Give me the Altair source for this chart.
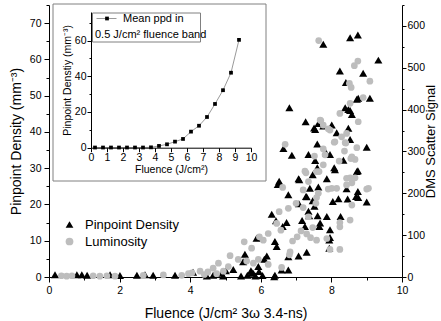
import altair as alt
import pandas as pd

# ---------------- data ----------------
# Pinpoint Density (black triangles, left axis, mm^-3)
tri_x = [0.17, 0.79, 0.93, 1.08, 1.73, 2.01, 2.49, 2.72, 2.95, 3.57, 4.08,
         4.47, 4.65, 4.89, 5.01, 4.93, 5.22, 5.44, 5.5, 5.55, 5.72, 5.79, 5.93, 6.1, 6.17,
         5.88, 6.38, 6.59, 6.78, 6.4, 5.62, 5.75, 5.85, 5.95, 6.05,
         6.4, 6.45, 6.31, 6.43, 6.62, 6.73, 6.78, 7.07, 7.3, 6.78, 7.28, 7.08, 7.47, 7.52,
         7.61, 7.35, 7.37, 7.17, 7.25, 7.68, 7.66, 7.87, 7.96, 7.96, 7.94, 7.94, 8.04, 8.46,
         8.7, 8.75, 9.0, 8.26, 6.52, 6.54, 7.07, 7.47, 7.87, 8.08, 8.72, 7.6, 8.1, 8.75,
         7.09, 7.39, 8.43, 6.48, 7.3, 7.63, 8.2, 8.76,
         6.64, 6.88, 7.35, 7.96, 7.54, 8.34, 9.0, 7.6, 8.15, 8.01, 7.54, 7.63, 7.27, 6.81,
         8.58, 8.48, 8.72, 8.53, 8.39, 8.76, 9.09, 8.9, 8.41, 8.24, 9.33, 8.53, 8.75, 7.77,
         7.51, 7.77, 8.48, 8.53, 7.85]
tri_y = [0.6, 0.6, 0.6, 0.5, 0.6, 0.4, 0.5, 0.6, 0.5, 0.5, 1.3,
         0.3, 0.5, 1.0, 1.7, 0.3, 2.1, 0.3, 4.2, 6.3, 1.7, 1.0, 2.9, 4.9, 5.8,
         10.7, 0.1, 1.9, 1.9, 0.5, 0.5, 1.2, 0.3, 1.5, 0.4,
         9.8, 8.4, 17.3, 15.5, 13.9, 15.0, 5.6, 5.8, 6.8, 22.7, 22.2, 20.2, 21.0, 19.5,
         16.9, 18.1, 16.9, 15.6, 13.9, 14.9, 13.9, 16.7, 13.0, 10.9, 10.2, 7.9, 20.8, 21.5,
         22.2, 23.6, 20.7, 16.7, 26.4, 25.7, 27.1, 28.2, 27.1, 30.1, 29.1, 30.1, 29.6, 29.3,
         26.8, 24.5, 24.3, 25.5, 22.1, 24.8, 21.6, 21.9,
         35.4, 33.6, 33.8, 33.8, 32.1, 32.2, 35.8, 36.7, 39.8, 41.9, 40.7, 42.3, 42.8, 46.7,
         44.8, 46.2, 49.0, 45.9, 46.7, 49.3, 49.3, 56.2, 53.6, 56.8, 59.8, 66.0, 66.7, 64.2,
         41.1, 41.6, 41.0, 37.9, 34.2]

# Luminosity (grey circles, right axis, DMS scatter signal)
lum_x = [0.35, 0.5, 0.65, 1.25, 1.44, 1.64, 1.87, 2.67, 3.24, 3.76, 3.95, 4.05, 4.28, 4.4,
         4.65, 4.8, 4.75, 4.5, 4.94, 5.08, 5.13, 5.36, 5.6, 5.79, 5.53, 5.74, 5.96, 6.07,
         6.21, 6.45, 6.57, 6.52, 6.78, 7.0, 7.2, 7.35, 7.56, 7.63, 7.28, 7.58, 8.43, 8.01,
         8.15, 8.43, 9.0, 8.58, 8.24, 8.24, 8.58, 8.53, 8.24, 6.83, 6.9, 7.03, 7.3, 7.14,
         7.41, 7.58, 7.47, 7.87, 7.96, 6.81, 6.59, 6.21, 5.93,
         6.62, 7.2, 7.58, 7.35, 7.91, 9.05, 8.53, 8.67, 7.25, 7.65, 7.77, 8.22, 8.55, 8.67,
         7.82, 7.77, 6.69, 8.72, 8.08, 8.41, 8.43, 7.91, 7.7, 8.24, 8.76, 8.53, 8.51, 8.56,
         9.09, 8.9, 8.75, 8.65, 7.64, 7.52, 8.37, 8.58, 8.39, 7.68, 7.77, 7.96, 8.29, 8.1]
lum_y = [3, 2, 3, 3, 2, 3, 2, 4, 5, 4, 8, 10, 14, 6,
         21, 33, 8, 12, 14, 25, 51, 42, 38, 33, 84, 69, 96, 88,
         104, 128, 112, 156, 164, 176, 166, 144, 176, 200, 249, 252, 220, 212,
         212, 236, 210, 225, 120, 130, 172, 136, 66, 60, 86, 96, 103, 110,
         94, 88, 118, 92, 66, 53, 23, 30, 42,
         214, 208, 190, 228, 210, 212, 237, 237, 253, 252, 268, 277, 283, 281,
         292, 306, 317, 309, 322, 320, 343, 354, 374, 391, 371, 415, 463, 453,
         468, 429, 516, 505, 565, 289, 301, 287, 321, 375, 363, 351, 335, 323]

# Inset: mean ppd in 0.5 J/cm^2 fluence bands
band_x = [0.25, 0.75, 1.25, 1.75, 2.25, 2.75, 3.25, 3.75, 4.25, 4.75,
          5.25, 5.75, 6.25, 6.75, 7.25, 7.75, 8.25, 8.75, 9.25]
band_y = [0.1, 0.1, 0.1, 0.1, 0.1, 0.1, 0.1, 0.2, 1.0, 1.9,
          3.4, 4.9, 9.0, 12.3, 17.2, 24.5, 32.2, 42.0, 60.4]

series_names = ["Pinpoint Density", "Luminosity"]
inset_legend_lines = ["Mean ppd in", "0.5 J/cm\u00b2 fluence band"]

# ---------------- tables ----------------
tri_df = pd.DataFrame({"fluence": tri_x, "value": tri_y, "series": series_names[0]})
lum_df = pd.DataFrame({"fluence": lum_x, "value": lum_y, "series": series_names[1]})
band_df = pd.DataFrame({"fluence": band_x, "ppd": band_y})
one = pd.DataFrame({"k": [0]})

FONT = "Liberation Sans"
TICK_FS = 10.5

color_scale = alt.Scale(domain=series_names, range=["#000000", "#bdbdbd"])
shape_scale = alt.Scale(domain=series_names, range=["triangle-up", "circle"])
legend = alt.Legend(orient="none", legendX=14, legendY=213, title=None,
                    labelFont=FONT, labelFontSize=13, labelColor="#000",
                    symbolSize=60, symbolStrokeWidth=0, rowPadding=3,
                    padding=0, labelOffset=9)


def minor(test, major=5, small=3):
    return {"condition": {"test": test, "value": major}, "value": small}


def axis_common(**kw):
    base = dict(grid=False, labelFont=FONT, labelFontSize=TICK_FS, labelColor="#000",
                titleFont=FONT, titleFontWeight="normal", titleColor="#000",
                domainColor="#000", tickColor="#000", labelFlush=False,
                labelOverlap=False)
    base.update(kw)
    return alt.Axis(**base)


x_axis_main = axis_common(values=list(range(0, 11)), format="d",
                          labelExpr="datum.value % 2 === 0 ? datum.label : ''",
                          tickSize=minor("datum.value % 2 === 0", 5, 3),
                          labelPadding=3, titleFontSize=14, titlePadding=11)
y_axis_left = axis_common(orient="left", values=list(range(0, 80, 5)), format="d",
                          labelExpr="datum.value % 10 === 0 ? datum.label : ''",
                          tickSize=minor("datum.value % 10 === 0", 5, 3),
                          labelPadding=3, titleFontSize=14, titlePadding=6)
y_axis_right = axis_common(orient="right", values=list(range(0, 700, 50)), format="d",
                           labelExpr="datum.value % 100 === 0 ? datum.label : ''",
                           tickSize=minor("datum.value % 100 === 0", 4, 2),
                           labelPadding=1, titleFontSize=13, titlePadding=0,
                           titleAngle=270, titleBaseline="top")

tri = alt.Chart(tri_df).mark_point(filled=True, size=65, opacity=1).encode(
    x=alt.X("fluence:Q", scale=alt.Scale(domain=[0, 10], nice=False),
            axis=x_axis_main, title="Fluence (J/cm\u00b2 3\u03c9 3.4-ns)"),
    y=alt.Y("value:Q", scale=alt.Scale(domain=[0, 75], nice=False),
            axis=y_axis_left, title="Pinpoint Density (mm\u207b\u00b3)"),
    color=alt.Color("series:N", scale=color_scale, legend=legend),
    shape=alt.Shape("series:N", scale=shape_scale, legend=legend),
)

lum = alt.Chart(lum_df).mark_point(filled=True, size=45, opacity=1).encode(
    x=alt.X("fluence:Q", scale=alt.Scale(domain=[0, 10], nice=False), axis=None),
    y=alt.Y("value:Q", scale=alt.Scale(domain=[0, 650], nice=False),
            axis=y_axis_right, title="DMS Scatter Signal"),
    color=alt.Color("series:N", scale=color_scale, legend=legend),
    shape=alt.Shape("series:N", scale=shape_scale, legend=legend),
)

# ---------------- inset ----------------
inset_box = alt.Chart(one).mark_rect(fill="white", stroke="#808080", strokeWidth=1).encode(
    x=alt.value(4), x2=alt.value(217), y=alt.value(-1), y2=alt.value(176))

ix_scale = alt.Scale(domain=[0, 10], range=[42, 202], nice=False)
iy_scale = alt.Scale(domain=[0, 76], range=[142.7, 7], nice=False)

inset_x_axis = axis_common(orient="bottom", offset=-129.3, zindex=2,
                           values=[v / 2 for v in range(0, 21)], format="d",
                           labelExpr="datum.value % 1 === 0 ? datum.label : ''",
                           tickSize=minor("datum.value % 1 === 0", 4, 2),
                           labelPadding=1, titleFontSize=10.5, titlePadding=1)
inset_y_axis = axis_common(orient="left", offset=-42, zindex=2,
                           values=list(range(0, 80, 10)), format="d",
                           labelExpr="datum.value % 20 === 0 ? datum.label : ''",
                           tickSize=minor("datum.value % 20 === 0", 4, 2),
                           labelPadding=1, titleFontSize=10.5, titlePadding=2)

inset_line = alt.Chart(band_df).mark_line(color="#9a9a9a", strokeWidth=1).encode(
    x=alt.X("fluence:Q", scale=ix_scale, axis=inset_x_axis, title="Fluence (J/cm\u00b2)"),
    y=alt.Y("ppd:Q", scale=iy_scale, axis=inset_y_axis,
            title="Pinpoint Denstiy (mm\u207b\u00b3)"),
)
inset_pts = alt.Chart(band_df).mark_point(shape="square", filled=True, color="#000",
                                          size=14, opacity=1).encode(
    x=alt.X("fluence:Q", scale=ix_scale, axis=None),
    y=alt.Y("ppd:Q", scale=iy_scale, axis=None),
)

leg_box = alt.Chart(one).mark_rect(fill="white", stroke="#808080", strokeWidth=1).encode(
    x=alt.value(43.5), x2=alt.value(151.5), y=alt.value(8), y2=alt.value(37))
leg_line = alt.Chart(one).mark_rule(color="#9a9a9a", strokeWidth=1).encode(
    x=alt.value(47.5), x2=alt.value(67.5), y=alt.value(13.5))
leg_sq = alt.Chart(one).mark_point(shape="square", filled=True, color="#000", size=14,
                                   opacity=1).encode(x=alt.value(58), y=alt.value(13.5))
leg_t1 = alt.Chart(pd.DataFrame({"t": [inset_legend_lines[0]]})).mark_text(
    font=FONT, fontSize=11, align="left", baseline="middle", color="#000").encode(
    text="t:N", x=alt.value(74), y=alt.value(13.5))
leg_t2 = alt.Chart(pd.DataFrame({"t": [inset_legend_lines[1]]})).mark_text(
    font=FONT, fontSize=11, align="left", baseline="middle", color="#000").encode(
    text="t:N", x=alt.value(46), y=alt.value(30))

chart = alt.layer(
    tri, lum, inset_box, inset_line, inset_pts, leg_box, leg_line, leg_sq, leg_t1, leg_t2
).resolve_scale(x="independent", y="independent").properties(
    width=353, height=272,
    autosize=alt.AutoSizeParams(type="none"),
    padding={"left": 49, "top": 5, "right": 39, "bottom": 44},
    background="white",
).configure_view(stroke=None)

chart.save("out.html", embed_options={"renderer": "svg", "actions": False})
